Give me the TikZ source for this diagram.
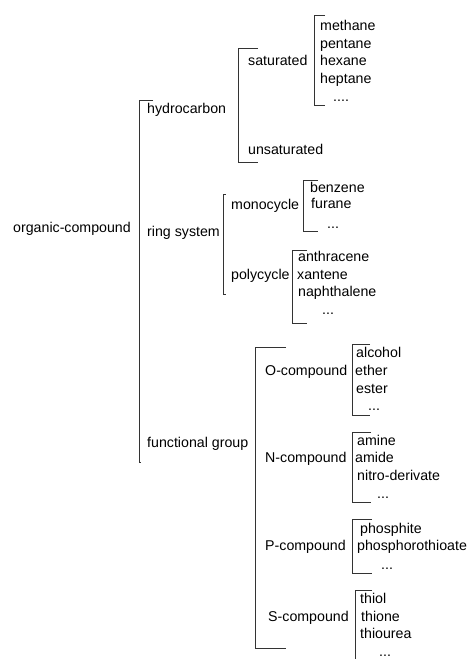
\documentclass[tikz,border=0pt]{standalone}
\usepackage{fontspec}
\setmainfont{Liberation Sans}
\usetikzlibrary{positioning}

\tikzset{
  term/.style={anchor=west,inner sep=0pt,text height=10pt,text depth=3pt,
    font=\fontsize{14.2}{17}\selectfont,text=black},
  brk/.style={draw=black!80,line width=0.9pt}
}

\begin{document}
\begin{tikzpicture}[x=1pt,y=-1pt]
\useasboundingbox (0,0) rectangle (469,659);
\clip (0,0) rectangle (469,659);

% top level
\node[term] (oc) at (13,229) {organic-compound};
\node[term] (hc) at (147,110) {hydrocarbon};
\node[term] (rs) at (147,233) {ring system};
\node[term] (fg) at (147,444) {functional group};
\draw[brk] (153,100) -- (139,100) -- (139,462) -- (141,462);

% hydrocarbon
\node[term] (sat) at (248,62) {saturated};
\node[term] (unsat) at (248,151) {unsaturated};
\draw[brk] (258,48) -- (238,48) -- (238,162) -- (258,162);

\node[term] (meth) at (320,27) {methane};
\node[term] (pent) at (320,45) {pentane};
\node[term] (hexa) at (320,62) {hexane};
\node[term] (hept) at (320,80) {heptane};
\node[term] (satdots) at (333,98) {....};
\draw[brk] (325,15) -- (314,15) -- (314,105) -- (325,105);

% ring system
\node[term] (mono) at (231,206) {monocycle};
\node[term] (poly) at (231,276) {polycycle};
\draw[brk] (226,194) -- (223,194) -- (223,294) -- (226,294);

\node[term] (benz) at (310,189) {benzene};
\node[term] (fura) at (311,205) {furane};
\node[term] (monodots) at (327,225) {...};
\draw[brk] (318,180) -- (303,180) -- (303,231) -- (318,231);

\node[term] (anth) at (298,258) {anthracene};
\node[term] (xant) at (297,276) {xantene};
\node[term] (naph) at (298,293) {naphthalene};
\node[term] (polydots) at (322,311) {...};
\draw[brk] (307,250) -- (292,250) -- (292,323) -- (307,323);

% functional group
\node[term] (ocp) at (265,372) {O-compound};
\node[term] (ncp) at (265,459) {N-compound};
\node[term] (pcp) at (265,547) {P-compound};
\node[term] (scp) at (268,618) {S-compound};
\draw[brk] (286,347) -- (255,347) -- (255,648) -- (286,648);

\node[term] (alco) at (356,354) {alcohol};
\node[term] (ethe) at (355,372) {ether};
\node[term] (este) at (356,390) {ester};
\node[term] (odots) at (368,407) {...};
\draw[brk] (370,344) -- (352,344) -- (352,415) -- (370,415);

\node[term] (amin) at (357,442) {amine};
\node[term] (amid) at (355,459) {amide};
\node[term] (nitr) at (357,477) {nitro-derivate};
\node[term] (ndots) at (377,495) {...};
\draw[brk] (371,432) -- (352,432) -- (352,502) -- (371,502);

\node[term] (phit) at (360,530) {phosphite};
\node[term] (phth) at (357,547) {phosphorothioate};
\node[term] (pdots) at (381,566) {...};
\draw[brk] (372,519) -- (352,519) -- (352,573) -- (372,573);

\node[term] (thil) at (360,600) {thiol};
\node[term] (thin) at (361,618) {thione};
\node[term] (thiu) at (360,635) {thiourea};
\node[term] (sdots) at (379,653) {...};
\draw[brk] (372,590) -- (355,590) -- (355,670);
\end{tikzpicture}
\end{document}
